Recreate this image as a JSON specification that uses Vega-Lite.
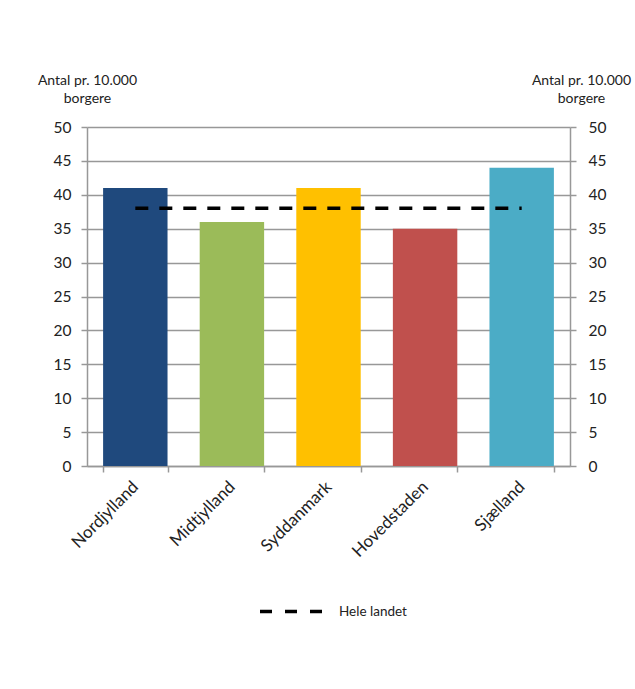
{
  "$schema": "https://vega.github.io/schema/vega-lite/v6.json",
  "width": 483,
  "height": 339,
  "autosize": {"type": "none"},
  "padding": {"left": 87, "top": 127, "right": 65, "bottom": 223},
  "background": "white",
  "config": {
    "view": {"stroke": null},
    "font": "Lato",
    "axis": {
      "labelFont": "Lato",
      "titleFont": "Lato",
      "labelColor": "#222222",
      "titleColor": "#222222",
      "domainColor": "#989898",
      "tickColor": "#989898",
      "gridColor": "#989898",
      "domainWidth": 1.5,
      "tickWidth": 1.5,
      "gridWidth": 1.5
    }
  },
  "datasets": {
    "regions": [
      {"region": "Nordjylland", "value": 41},
      {"region": "Midtjylland", "value": 36},
      {"region": "Syddanmark", "value": 41},
      {"region": "Hovedstaden", "value": 35},
      {"region": "Sjælland", "value": 44}
    ],
    "avg": [
      {"from": "Nordjylland", "to": "Sjælland", "value": 38, "series": "Hele landet"}
    ]
  },
  "layer": [
    {
      "data": {"name": "regions"},
      "mark": {"type": "bar"},
      "encoding": {
        "x": {
          "field": "region",
          "type": "nominal",
          "sort": null,
          "scale": {
            "domain": ["Nordjylland", "Midtjylland", "Syddanmark", "Hovedstaden", "Sjælland"],
            "paddingInner": 0.333,
            "paddingOuter": 0.1667
          },
          "axis": {
            "title": null,
            "domain": true,
            "ticks": true,
            "tickBand": "extent",
            "tickSize": 6,
            "tickColor": "#989898",
            "tickWidth": 1.5,
            "grid": false,
            "labelAngle": -45,
            "labelAlign": "right",
            "labelBaseline": "middle",
            "labelPadding": 12,
            "labelFontSize": 17
          }
        },
        "y": {
          "field": "value",
          "type": "quantitative",
          "scale": {"domain": [0, 50]},
          "axis": {
            "orient": "left",
            "values": [0, 5, 10, 15, 20, 25, 30, 35, 40, 45, 50],
            "grid": true,
            "tickSize": 6,
            "labelPadding": 10,
            "labelFontSize": 15.5,
            "title": ["Antal pr. 10.000", "borgere"],
            "titleAngle": 0,
            "titleAlign": "center",
            "titleBaseline": "alphabetic",
            "titleX": 0,
            "titleY": -43,
            "titleFontSize": 14,
            "titleFontWeight": "normal",
            "titleLineHeight": 18
          }
        },
        "color": {
          "field": "region",
          "type": "nominal",
          "scale": {
            "domain": ["Nordjylland", "Midtjylland", "Syddanmark", "Hovedstaden", "Sjælland"],
            "range": ["#1F497D", "#9BBB59", "#FFC000", "#C0504D", "#4BACC6"]
          },
          "legend": null
        }
      }
    },
    {
      "data": {"name": "regions"},
      "mark": {"type": "bar", "opacity": 0},
      "encoding": {
        "x": {
          "field": "region",
          "type": "nominal",
          "sort": null,
          "axis": {
            "title": null,
            "domain": true,
            "ticks": true,
            "tickBand": "extent",
            "tickSize": 6,
            "tickColor": "#989898",
            "tickWidth": 1.5,
            "grid": false,
            "labelAngle": -45,
            "labelAlign": "right",
            "labelBaseline": "middle",
            "labelPadding": 12,
            "labelFontSize": 17
          }
        },
        "y": {
          "field": "value",
          "type": "quantitative",
          "scale": {"domain": [0, 50]},
          "axis": {
            "orient": "right",
            "values": [0, 5, 10, 15, 20, 25, 30, 35, 40, 45, 50],
            "grid": false,
            "tickSize": 6,
            "labelPadding": 12,
            "labelFontSize": 15.5,
            "title": ["Antal pr. 10.000", "borgere"],
            "titleAngle": 0,
            "titleAlign": "center",
            "titleBaseline": "alphabetic",
            "titleX": 11,
            "titleY": -43,
            "titleFontSize": 14,
            "titleFontWeight": "normal",
            "titleLineHeight": 18
          }
        }
      }
    },
    {
      "data": {"name": "avg"},
      "mark": {"type": "rule", "strokeDash": [13, 11], "strokeWidth": 3.5, "strokeCap": "butt"},
      "encoding": {
        "x": {
          "field": "from",
          "type": "nominal",
          "axis": {
            "title": null,
            "domain": true,
            "ticks": true,
            "tickBand": "extent",
            "tickSize": 6,
            "tickColor": "#989898",
            "tickWidth": 1.5,
            "grid": false,
            "labelAngle": -45,
            "labelAlign": "right",
            "labelBaseline": "middle",
            "labelPadding": 12,
            "labelFontSize": 17
          }
        },
        "x2": {"field": "to"},
        "y": {"field": "value", "type": "quantitative", "axis": null},
        "stroke": {
          "field": "series",
          "type": "nominal",
          "scale": {"range": ["black"]},
          "legend": {
            "orient": "none",
            "legendX": 171,
            "legendY": 448,
            "title": null,
            "padding": 0,
            "symbolType": "stroke",
            "symbolDash": [12, 13],
            "symbolStrokeWidth": 3.5,
            "symbolSize": 4761,
            "labelOffset": 8,
            "labelFont": "Lato",
            "labelFontSize": 13.5,
            "labelColor": "#222222"
          }
        }
      }
    }
  ],
  "resolve": {"scale": {"y": "shared", "x": "shared"}, "axis": {"y": "independent"}}
}
